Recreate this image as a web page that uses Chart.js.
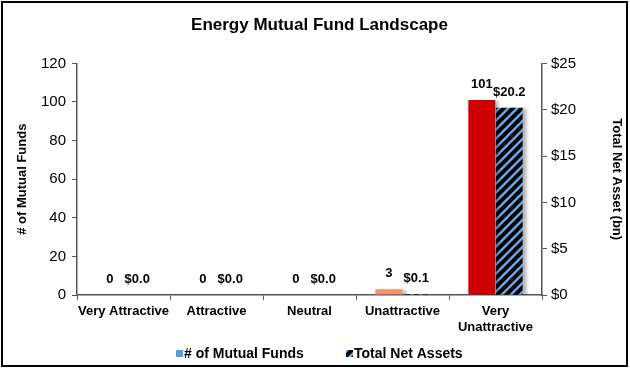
<!DOCTYPE html>
<html>
<head>
<meta charset="utf-8">
<script src="https://cdn.jsdelivr.net/npm/chart.js@4/dist/chart.umd.min.js"></script>
<style>
  html, body { margin: 0; padding: 0; background: #fff; }
  #wrap { width: 630px; height: 369px; position: relative; }
</style>
</head>
<body>
<div id="wrap"><canvas id="chart" width="630" height="369"></canvas></div>
<script>
// data
const CATEGORIES = ['Very Attractive', 'Attractive', 'Neutral', 'Unattractive', ['Very', 'Unattractive']];
const FUND_COUNTS = [0, 0, 0, 3, 101];
const NET_ASSETS = [0.0, 0.0, 0.0, 0.1, 20.2];
const FUND_COLORS = ['#2E8B57', '#7CBF5A', '#BFBFBF', '#F4936B', '#CC0000'];
const LEFT_TICKS = [0, 20, 40, 60, 80, 100, 120];
const RIGHT_TICKS = [0, 5, 10, 15, 20, 25];

const FONT = '"Liberation Sans", Arial, sans-serif';

// blue bars with black "/" stripes
function makeHatch() {
  const s = 9;
  const c = document.createElement('canvas');
  c.width = s; c.height = s;
  const g = c.getContext('2d');
  g.fillStyle = '#6AA8F0';
  g.fillRect(0, 0, s, s);
  g.strokeStyle = '#000';
  g.lineWidth = 4;
  g.beginPath();
  g.moveTo(-1, s + 1); g.lineTo(s + 1, -1);
  g.moveTo(-2, 2); g.lineTo(2, -2);
  g.moveTo(s - 2, s + 2); g.lineTo(s + 2, s - 2);
  g.stroke();
  return g.createPattern(c, 'repeat');
}
const hatch = makeHatch();

// shadow under the bars, value labels, hand-drawn legend and frame
const barExtras = {
  id: 'barExtras',
  beforeDatasetsDraw(chart) {
    const ctx = chart.ctx;
    ctx.save();
    ctx.shadowColor = 'rgba(0,0,0,0.28)';
    ctx.shadowOffsetX = 4;
    ctx.shadowOffsetY = 1;
    ctx.shadowBlur = 3;
  },
  afterDatasetsDraw(chart) {
    const ctx = chart.ctx;
    ctx.restore();
    ctx.save();
    ctx.font = 'bold 13px ' + FONT;
    ctx.fillStyle = '#000';
    ctx.textAlign = 'center';
    ctx.textBaseline = 'bottom';
    chart.data.datasets.forEach((ds, di) => {
      chart.getDatasetMeta(di).data.forEach((bar, i) => {
        const v = ds.data[i];
        const txt = di === 0 ? String(v) : '$' + v.toFixed(1);
        ctx.fillText(txt, bar.x, bar.y - 9);
      });
    });
    ctx.restore();
  },
  afterDraw(chart) {
    const ctx = chart.ctx;
    ctx.save();
    // legend
    const y = 354;
    ctx.font = 'bold 14px ' + FONT;
    ctx.textBaseline = 'middle';
    ctx.textAlign = 'left';
    ctx.fillStyle = '#5B9BE0';
    ctx.fillRect(176, y - 4, 7, 7);
    ctx.fillStyle = '#000';
    ctx.fillText(chart.data.datasets[0].label, 184, y);
    ctx.fillStyle = hatch;
    ctx.fillRect(346, y - 4, 7, 7);
    ctx.fillStyle = '#000';
    ctx.fillText(chart.data.datasets[1].label, 354, y);
    // frame
    ctx.strokeStyle = '#000';
    ctx.lineWidth = 2;
    ctx.strokeRect(2, 2, 625, 364);
    ctx.restore();
  }
};

new Chart(document.getElementById('chart'), {
  type: 'bar',
  data: {
    labels: CATEGORIES,
    datasets: [
      { label: '# of Mutual Funds', data: FUND_COUNTS, backgroundColor: FUND_COLORS, yAxisID: 'y', barPercentage: 0.98, categoryPercentage: 0.59 },
      { label: 'Total Net Assets', data: NET_ASSETS, backgroundColor: hatch, yAxisID: 'y1', barPercentage: 0.98, categoryPercentage: 0.59 }
    ]
  },
  options: {
    responsive: false,
    animation: false,
    layout: { padding: { left: 15, right: 6, top: 0, bottom: 28 } },
    plugins: {
      title: {
        display: true,
        text: 'Energy Mutual Fund Landscape',
        font: { family: FONT, size: 17, weight: 'bold' },
        color: '#000',
        padding: { top: 15, bottom: 28 }
      },
      legend: { display: false },
      tooltip: { enabled: false }
    },
    scales: {
      x: {
        grid: { display: true, drawOnChartArea: false, offset: true, tickLength: 5, color: '#555' },
        border: { color: '#555', width: 1.5 },
        ticks: { font: { family: FONT, size: 13, weight: 'bold' }, color: '#000', maxRotation: 0, autoSkip: false, padding: 4 },
        afterFit: s => { s.height = 46; }
      },
      y: {
        position: 'left',
        min: 0, max: 120,
        afterBuildTicks: s => { s.ticks = LEFT_TICKS.map(v => ({ value: v })); },
        grid: { drawOnChartArea: false, tickLength: 5, color: '#555' },
        border: { color: '#555', width: 1.5 },
        ticks: { font: { family: FONT, size: 15 }, color: '#000', padding: 6 },
        title: { display: true, text: '# of Mutual Funds', font: { family: FONT, size: 13, weight: 'bold' }, color: '#000', padding: 0 },
        afterFit: s => { s.width = 62; }
      },
      y1: {
        position: 'right',
        min: 0, max: 25,
        afterBuildTicks: s => { s.ticks = RIGHT_TICKS.map(v => ({ value: v })); },
        grid: { drawOnChartArea: false, tickLength: 5, color: '#555' },
        border: { color: '#555', width: 1.5 },
        ticks: { font: { family: FONT, size: 15 }, color: '#000', padding: 4, callback: v => '$' + v },
        title: { display: true, text: 'Total Net Asset (bn)', font: { family: FONT, size: 13, weight: 'bold' }, color: '#000', padding: 0 },
        afterFit: s => { s.width = 82; }
      }
    }
  },
  plugins: [barExtras]
});
</script>
</body>
</html>
